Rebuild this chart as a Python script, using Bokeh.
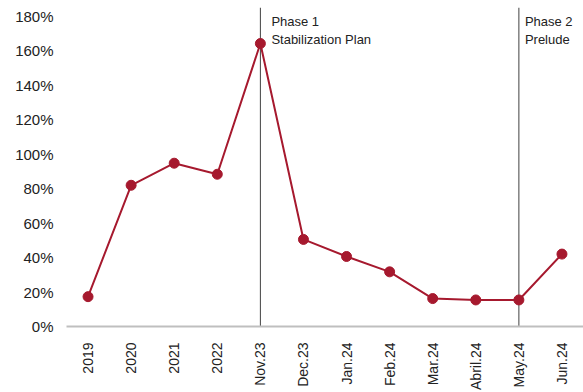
import math
from bokeh.plotting import figure
from bokeh.models import ColumnDataSource, FactorRange, Range1d, FixedTicker, PrintfTickFormatter
from bokeh.embed import file_html
from bokeh.resources import INLINE
from bokeh.core.properties import value

categories = ["2019", "2020", "2021", "2022", "Nov.23", "Dec.23", "Jan.24",
              "Feb.24", "Mar.24", "Abril.24", "May.24", "Jun.24"]
values_pct = [17.3, 81.9, 94.7, 88.3, 164.1, 50.5, 40.6, 31.7, 16.2, 15.4, 15.4, 42.0]
y_ticks = [0, 20, 40, 60, 80, 100, 120, 140, 160, 180]
phase_dates = ["Nov.23", "May.24"]
phase_labels = ["Phase 1\nStabilization Plan", "Phase 2\nPrelude"]

RED = "#A6192E"
FONT = "Liberation Sans"

p = figure(width=583, height=392, x_range=FactorRange(*categories, range_padding=0),
           y_range=Range1d(0, 185), output_backend="svg", toolbar_location=None,
           min_border_left=66, min_border_right=0, min_border_top=7, min_border_bottom=0)
p.outline_line_color = None
p.xgrid.visible = False
p.ygrid.visible = False
p.background_fill_color = "white"
p.border_fill_color = "white"

# phase separator lines
p.segment(x0=phase_dates, x1=phase_dates, y0=[0] * len(phase_dates), y1=[185] * len(phase_dates),
          line_color="#404040", line_width=1)

src = ColumnDataSource(dict(x=categories, y=values_pct))
p.line("x", "y", source=src, line_color=RED, line_width=2)
p.scatter("x", "y", source=src, size=10, fill_color=RED, line_color=RED)

ann = ColumnDataSource(dict(x=phase_dates, y=[185] * len(phase_dates), t=phase_labels, dx=[11, 6]))
p.text("x", "y", text="t", source=ann, x_offset="dx", y_offset=6,
       text_font=value(FONT), text_font_size="13px", text_color="#222222",
       text_baseline="top", text_align="left", text_line_height=1.2)

# axes
p.yaxis.ticker = FixedTicker(ticks=y_ticks)
p.yaxis.formatter = PrintfTickFormatter(format="%d%%")
p.yaxis.axis_line_color = None
p.yaxis.major_tick_line_color = None
p.yaxis.minor_tick_line_color = None
p.yaxis.major_label_standoff = 7
p.yaxis.major_label_text_font = FONT
p.yaxis.major_label_text_font_size = "15px"
p.yaxis.major_label_text_color = "#222222"

p.xaxis.axis_line_color = "#BFBFBF"
p.xaxis.axis_line_width = 2
p.xaxis.major_tick_line_color = None
p.xaxis.minor_tick_line_color = None
p.xaxis.major_label_orientation = math.pi / 2
p.xaxis.major_label_standoff = 10
p.xaxis.major_label_text_font = FONT
p.xaxis.major_label_text_font_size = "14px"
p.xaxis.major_label_text_color = "#222222"

open("out.html", "w").write(file_html(p, INLINE))
